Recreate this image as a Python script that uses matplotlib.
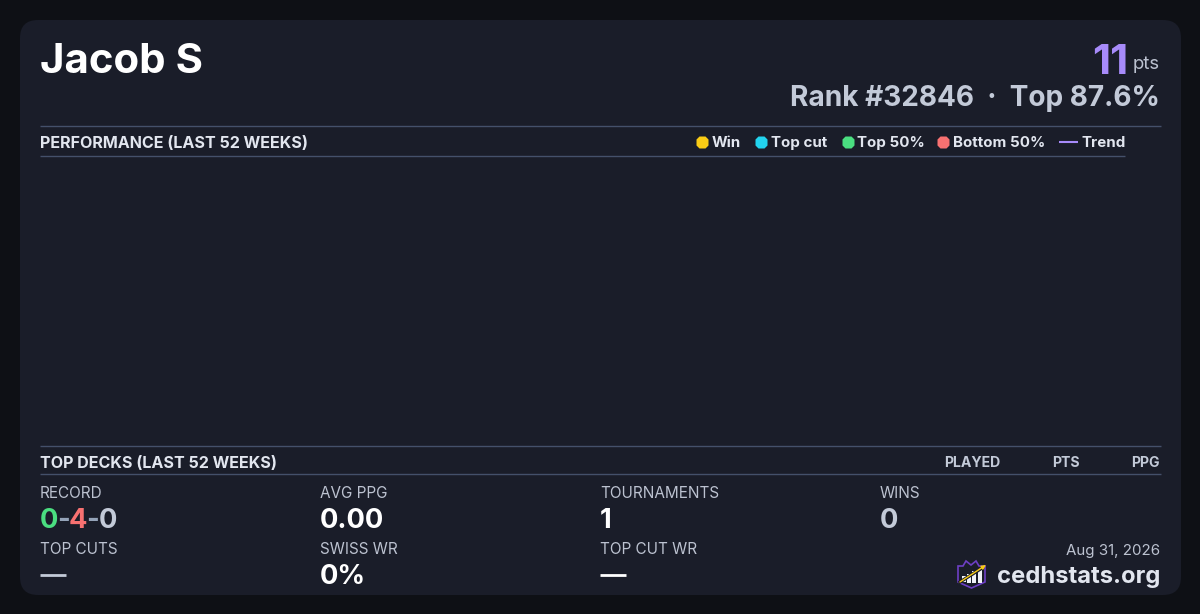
import matplotlib
matplotlib.use("Agg")
import matplotlib.pyplot as plt
from matplotlib.patches import FancyBboxPatch, Polygon, Rectangle

plt.rcParams["font.family"] = ["Inter", "DejaVu Sans"]

PLAYER = "Jacob S"
POINTS = "11"
RANK_LINE = "Rank #32846  ·  Top 87.6%"
PERF_TITLE = "PERFORMANCE (LAST 52 WEEKS)"
DECKS_TITLE = "TOP DECKS (LAST 52 WEEKS)"
DECK_COLUMNS = ["PLAYED", "PTS", "PPG"]
LEGEND_LABELS = ["Win", "Top cut", "Top 50%", "Bottom 50%"]
LEGEND_COLORS = ["#facc15", "#22d3ee", "#4ade80", "#f87171"]
STAT_LABELS = ["RECORD", "AVG PPG", "TOURNAMENTS", "WINS",
               "TOP CUTS", "SWISS WR", "TOP CUT WR"]
STAT_VALUES = [None, "0.00", "1", "0", "—", "0%", "—"]
STAT_COLORS = [None, "#ffffff", "#ffffff", "#c3cad8", "#c3cad8", "#ffffff", "#ffffff"]
RECORD_PARTS = ["0", "-", "4", "-", "0"]
RECORD_COLORS = ["#4ade80", "#94a3b8", "#f87171", "#94a3b8", "#c3cad8"]

BG = "#0e1015"
CARD = "#1a1d29"
RULE = "#44506a"
LABEL = "#e2e6ef"
MUTED = "#bcc2d0"
PURPLE = "#a78bfa"

fig = plt.figure(figsize=(12, 6.14), dpi=100, facecolor=BG)
# whole figure is one axes in pixel units
ax = fig.add_axes([0, 0, 1, 1])
ax.set_xlim(0, 1200)
ax.set_ylim(614, 0)
ax.axis("off")

ax.add_patch(FancyBboxPatch((20, 20), 1161, 575, boxstyle="round,pad=0,rounding_size=18",
                            fc=CARD, ec="none", zorder=1))


def txt(x, y, s, size, color, weight="normal", ha="left", va="baseline"):
    return ax.text(x, y, s, fontsize=size * 0.72, color=color, fontweight=weight,
                   ha=ha, va=va, zorder=3)


# header
txt(40, 73, PLAYER, 42, "#ffffff", "bold")
txt(1128, 74, POINTS, 42, PURPLE, "bold", ha="right")
txt(1160, 69, "pts", 18.5, MUTED, ha="right")
txt(1160, 106, RANK_LINE, 28, "#c3cad8", "bold", ha="right")

# section rules
for x1, y in [(1161, 126), (1125, 156), (1161, 446), (1161, 474)]:
    ax.plot([40, x1], [y, y], color=RULE, lw=1, solid_capstyle="butt", zorder=2)

txt(40, 148, PERF_TITLE, 16.1, LABEL, "bold")
txt(40, 468, DECKS_TITLE, 16.1, LABEL, "bold")

# legend
legend_x = [702, 761, 847.5, 943]
text_x = [712, 771, 857, 953]
for mx, tx, label, color in zip(legend_x, text_x, LEGEND_LABELS, LEGEND_COLORS):
    ax.plot(mx, 142, "8", ms=10, color=color, mec="none", zorder=3)
    txt(tx, 147, label, 15.1, LABEL, "bold")
ax.plot([1059, 1078], [142, 142], color=PURPLE, lw=1.5, solid_capstyle="butt", zorder=3)
txt(1081, 147, "Trend", 15.1, LABEL, "bold")

# deck table header
for x, label in zip([1000, 1080, 1160], DECK_COLUMNS):
    txt(x, 467, label, 14.1, "#c3cad8", "bold", ha="right")

# stats grid
stat_x = [40, 320, 600, 880, 40, 320, 600]
for i, (x, label, value, color) in enumerate(zip(stat_x, STAT_LABELS, STAT_VALUES, STAT_COLORS)):
    top = i < 4
    txt(x, 497.5 if top else 553.5, label, 15.3, MUTED)
    if value == "—":
        ax.plot([x, x + 26], [575, 575], color=color, lw=2, solid_capstyle="butt", zorder=3)
    elif value is not None:
        txt(x, 528 if top else 584, value, 27.3, color, "bold")

# record is drawn piece by piece
x_pos = 40
renderer = fig.canvas.get_renderer()
for part, color in zip(RECORD_PARTS, RECORD_COLORS):
    t = txt(x_pos, 528, part, 27.3, color, "bold")
    x_pos = t.get_window_extent(renderer).x1 - 1

# footer
txt(1160, 555, "Aug 31, 2026", 15.1, MUTED, ha="right")
txt(1160, 583, "cedhstats.org", 23.8, LABEL, "bold", ha="right")

# logo
ax.add_patch(Polygon([(958, 566), (963, 566), (966, 561), (971, 565), (976, 561), (979, 566),
                      (985, 566), (985, 582), (971.5, 588), (958, 582)],
                     closed=True, fc="#1a1d29", ec="#6d3fc4", lw=1.2, zorder=3))
for bx, by, bh in [(962, 576, 6), (967, 574, 9), (972, 571, 12), (978, 570, 13)]:
    ax.add_patch(Rectangle((bx, by), 3.8, bh, fc="#f1f3f8", ec="none", zorder=4))
ax.plot([960, 982], [582, 568], color=CARD, lw=2.4, zorder=5)
ax.annotate("", xy=(986, 565), xytext=(960, 582),
            arrowprops=dict(arrowstyle="-|>", color="#facc15", lw=1, mutation_scale=6,
                            shrinkA=0, shrinkB=0), zorder=6)

fig.savefig("out.png", dpi=100, facecolor=BG)
